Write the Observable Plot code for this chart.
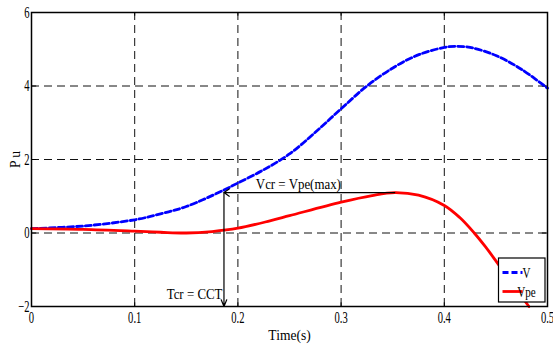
<!DOCTYPE html>
<html>
<head>
<meta charset="utf-8">
<script src="https://cdn.jsdelivr.net/npm/d3@7"></script>
<script src="https://cdn.jsdelivr.net/npm/@observablehq/plot@0.6"></script>
<style>
  html, body { margin: 0; padding: 0; background: #fff; }
  #wrap { position: relative; width: 553px; height: 346px; }
</style>
</head>
<body>
<div id="wrap"></div>
<script>
// Time axis (s)
const tV   = [0, 0.05, 0.1, 0.125, 0.15, 0.185, 0.2, 0.225, 0.25, 0.275, 0.3, 0.325, 0.353, 0.376, 0.4, 0.41, 0.425, 0.45, 0.475, 0.5];
const vV   = [0.12, 0.19, 0.36, 0.52, 0.72, 1.15, 1.36, 1.72, 2.15, 2.74, 3.38, 4.0, 4.54, 4.86, 5.05, 5.08, 5.05, 4.83, 4.45, 3.94];
const tVpe = [0, 0.05, 0.1, 0.125, 0.15, 0.175, 0.2, 0.231, 0.25, 0.3, 0.33, 0.352, 0.375, 0.4, 0.415, 0.429, 0.44, 0.45, 0.465, 0.482];
const vVpe = [0.12, 0.1, 0.05, 0.02, 0.0, 0.04, 0.13, 0.33, 0.47, 0.84, 1.02, 1.1, 1.03, 0.75, 0.42, 0.0, -0.38, -0.76, -1.35, -2.0];
const xTicks = [0, 0.1, 0.2, 0.3, 0.4, 0.5];
const yTicks = [-2, 0, 2, 4, 6];
const seriesNames = ["V", "Vpe"];
const seriesColors = ["#0000ff", "#ff0000"];
// critical point annotation
const tcr = 0.1865, vcrMax = 1.1, tPeak = 0.352;
const labelVcr = "Vcr = Vpe(max)", labelTcr = "Tcr = CCT";

const V = tV.map((t, i) => ({t, v: vV[i]}));
const Vpe = tVpe.map((t, i) => ({t, v: vVpe[i]}));

const font = '"Liberation Serif", "Times New Roman", serif';
const chart = Plot.plot({
  width: 553, height: 346,
  marginLeft: 31, marginRight: 6, marginTop: 12, marginBottom: 40,
  style: {fontFamily: font, fontSize: "16px", color: "#000", background: "#fff"},
  x: {domain: [0, 0.5], ticks: xTicks, tickFormat: d => d === 0 ? "0" : String(d), tickSize: 0, tickPadding: 5,
      label: "Time(s)", labelAnchor: "center", labelArrow: "none", labelOffset: 33},
  y: {domain: [-2, 6], ticks: yTicks, tickSize: 0, tickPadding: 2,
      label: "P u", labelAnchor: "center", labelArrow: "none", labelOffset: 22},
  marks: [
    Plot.ruleX(xTicks.slice(1, -1), {x: d => d, stroke: "#111", strokeWidth: 1, strokeDasharray: "8,5"}),
    Plot.ruleY(yTicks.slice(1, -1), {y: d => d, stroke: "#111", strokeWidth: 1, strokeDasharray: "8,5"}),
    // small inward tick marks on all four sides of the frame
    Plot.ruleX(xTicks, {x: d => d, y1: -2, y2: -1.9, stroke: "#000"}),
    Plot.ruleX(xTicks, {x: d => d, y1: 6, y2: 5.9, stroke: "#000"}),
    Plot.ruleY(yTicks, {y: d => d, x1: 0, x2: 0.005, stroke: "#000"}),
    Plot.ruleY(yTicks, {y: d => d, x1: 0.5, x2: 0.495, stroke: "#000"}),
    Plot.line(V, {x: "t", y: "v", stroke: seriesColors[0], strokeWidth: 2.8, strokeDasharray: "6,3", curve: "catmull-rom"}),
    Plot.line(Vpe, {x: "t", y: "v", stroke: seriesColors[1], strokeWidth: 2.8, curve: "catmull-rom"}),
    Plot.arrow([0], {x1: tPeak, y1: vcrMax, x2: tcr, y2: vcrMax, stroke: "#000", strokeWidth: 1.2, headLength: 8, headAngle: 70, bend: 0}),
    Plot.arrow([0], {x1: tcr, y1: vcrMax, x2: tcr, y2: -2, stroke: "#000", strokeWidth: 1.2, headLength: 9, headAngle: 45, bend: 0}),
    Plot.text([labelVcr], {x: (tcr + tPeak) / 2, y: vcrMax, text: d => d, lineAnchor: "bottom", dx: -11, dy: -4, fontSize: 15, fill: "#000"}),
    Plot.text([labelTcr], {x: tcr, y: -2, text: d => d, textAnchor: "end", lineAnchor: "bottom", dx: -1.5, dy: -8, fontSize: 15, fill: "#000"}),
    Plot.frame({stroke: "#000", strokeWidth: 1.5})
  ]
});
document.getElementById("wrap").appendChild(chart);

// legend (drawn on top of the plot area, bottom-right)
const svg = d3.select(chart);
const lx = 498.5, ly = 258;
const lg = svg.append("g").attr("font-family", font).attr("font-size", 15);
lg.append("rect").attr("x", lx).attr("y", ly).attr("width", 46.5).attr("height", 44)
  .attr("fill", "#fff").attr("stroke", "#000").attr("stroke-width", 1.2);
seriesNames.forEach((name, i) => {
  const yy = ly + 14.5 + i * 19;
  lg.append("line").attr("x1", lx + 4).attr("x2", lx + 24).attr("y1", yy).attr("y2", yy)
    .attr("stroke", seriesColors[i]).attr("stroke-width", 2.8).attr("stroke-dasharray", i === 0 ? "6,3" : null);
  lg.append("text").attr("x", lx + 28).attr("y", yy + 5).attr("fill", "#000").text(name)
    .attr("class", "sq").attr("data-ratio", 0.74);
});

// narrow the (condensed-looking) serif texts
function squeeze(node, ratio) {
  const w = node.getComputedTextLength();
  node.setAttribute("textLength", (w * ratio).toFixed(1));
  node.setAttribute("lengthAdjust", "spacingAndGlyphs");
}
chart.querySelectorAll('g[aria-label="x-axis tick label"] text, g[aria-label="y-axis tick label"] text').forEach(n => squeeze(n, 0.66));
chart.querySelectorAll('g[aria-label="x-axis label"] text, g[aria-label="y-axis label"] text').forEach(n => { n.style.fontSize = "15px"; squeeze(n, 0.9); });
chart.querySelectorAll('g[aria-label="text"] text').forEach(n => squeeze(n, 0.86));
chart.querySelectorAll("text.sq").forEach(n => squeeze(n, +n.getAttribute("data-ratio")));
</script>
</body>
</html>
